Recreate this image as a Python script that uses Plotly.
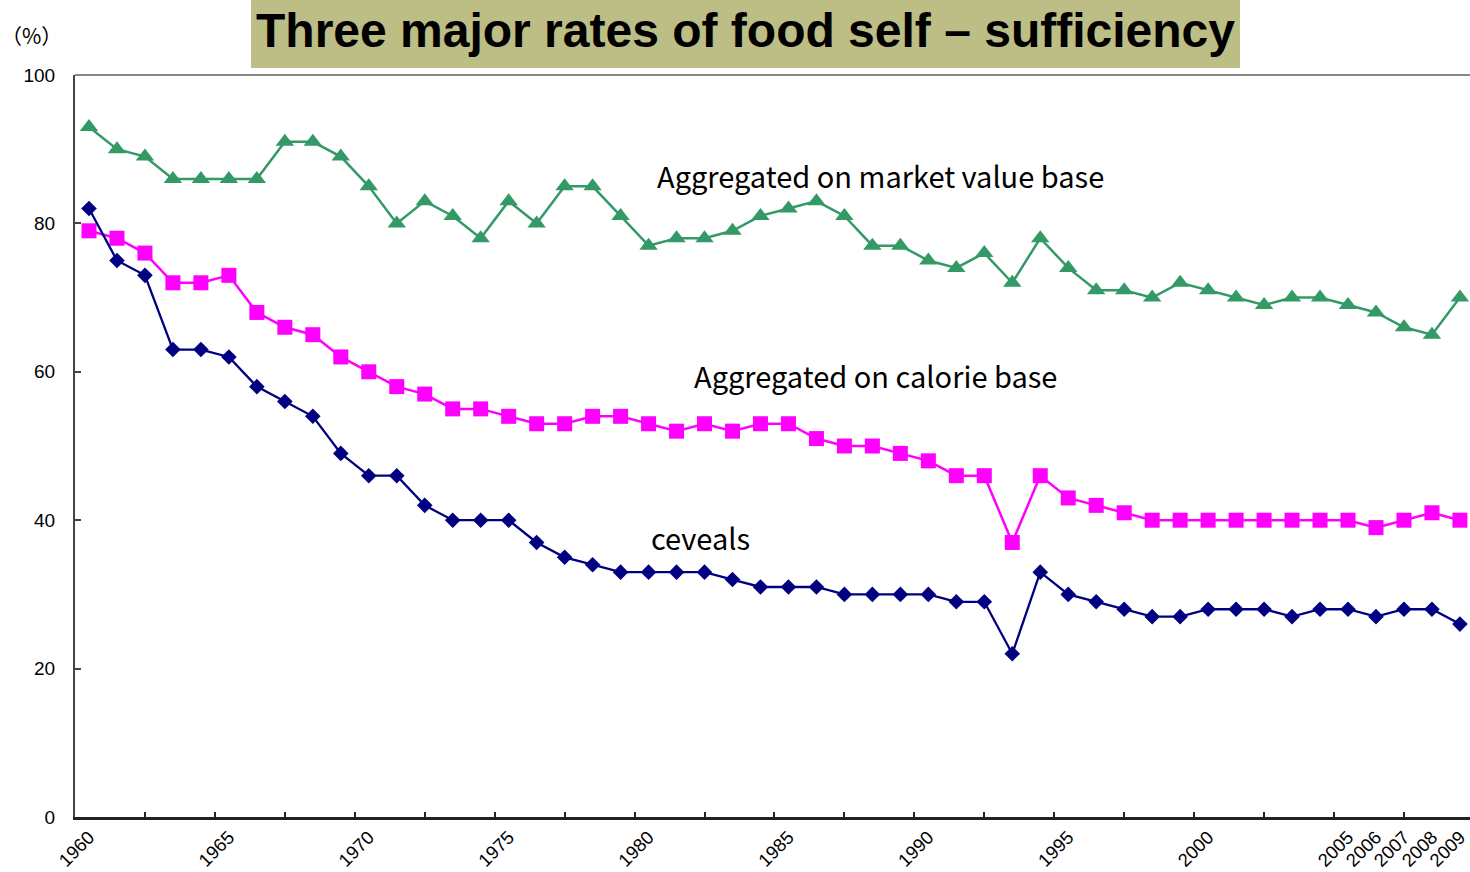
import plotly.graph_objects as go

years = list(range(1960, 2010))

market_value = [93, 90, 89, 86, 86, 86, 86, 91, 91, 89,
                85, 80, 83, 81, 78, 83, 80, 85, 85, 81,
                77, 78, 78, 79, 81, 82, 83, 81, 77, 77,
                75, 74, 76, 72, 78, 74, 71, 71, 70, 72,
                71, 70, 69, 70, 70, 69, 68, 66, 65, 70]

calorie = [79, 78, 76, 72, 72, 73, 68, 66, 65, 62,
           60, 58, 57, 55, 55, 54, 53, 53, 54, 54,
           53, 52, 53, 52, 53, 53, 51, 50, 50, 49,
           48, 46, 46, 37, 46, 43, 42, 41, 40, 40,
           40, 40, 40, 40, 40, 40, 39, 40, 41, 40]

cereals = [82, 75, 73, 63, 63, 62, 58, 56, 54, 49,
           46, 46, 42, 40, 40, 40, 37, 35, 34, 33,
           33, 33, 33, 32, 31, 31, 31, 30, 30, 30,
           30, 29, 29, 22, 33, 30, 29, 28, 27, 27,
           28, 28, 28, 27, 28, 28, 27, 28, 28, 26]

label_years = [1960, 1965, 1970, 1975, 1980, 1985, 1990, 1995, 2000,
               2005, 2006, 2007, 2008, 2009]
label_text = [str(y) for y in label_years]
y_ticks = [0, 20, 40, 60, 80, 100]

title_text = "Three major rates of food self – sufficiency"
series_labels = ["Aggregated on market value base", "Aggregated on calorie base", "ceveals"]

x_range = [1959.5, 2009.36]

fig = go.Figure()
# market value series on the main x axis (tick marks), others on the label axis
fig.add_trace(go.Scatter(x=years, y=market_value, mode="lines+markers",
                         line=dict(color="#339966", width=2.5),
                         marker=dict(symbol="triangle-up", size=16, color="#339966"),
                         showlegend=False, xaxis="x"))
fig.add_trace(go.Scatter(x=years, y=calorie, mode="lines+markers",
                         line=dict(color="#FF00FF", width=2.5),
                         marker=dict(symbol="square", size=15, color="#FF00FF"),
                         showlegend=False, xaxis="x2"))
fig.add_trace(go.Scatter(x=years, y=cereals, mode="lines+markers",
                         line=dict(color="#000080", width=2.3),
                         marker=dict(symbol="diamond", size=12, color="#000080"),
                         showlegend=False, xaxis="x2"))

fig.update_layout(
    width=1470, height=872,
    margin=dict(l=75, r=0, t=75, b=55),
    paper_bgcolor="white", plot_bgcolor="white",
    xaxis=dict(range=x_range, tickmode="linear", tick0=1959.5, dtick=2.5,
               ticks="inside", ticklen=5, tickwidth=2, tickcolor="#222",
               showticklabels=False, showgrid=False, zeroline=False,
               showline=True, linecolor="#222", linewidth=2.5),
    xaxis2=dict(range=x_range, overlaying="x", side="bottom", anchor="y",
                tickmode="array", tickvals=label_years, ticktext=label_text,
                tickangle=-45, ticks="", showgrid=False, zeroline=False, showline=False,
                tickfont=dict(family="Liberation Sans, Arial", size=18.5, color="black"),
                ticklabelstandoff=5),
    yaxis=dict(range=[0, 100], tickvals=y_ticks, ticks="inside", ticklen=6,
               tickwidth=1.5, tickcolor="#444", showgrid=False, zeroline=False,
               showline=True, linecolor="#444", linewidth=2,
               tickfont=dict(family="Liberation Sans, Arial", size=19, color="black"),
               ticklabelstandoff=14),
    shapes=[
        dict(type="line", xref="paper", yref="paper", x0=0, x1=1, y0=1, y1=1,
             line=dict(color="#888888", width=2)),
        dict(type="rect", xref="paper", yref="paper", x0=0.1262, x1=0.8351,
             y0=1.0094, y1=1.2, fillcolor="#BDBD86", line=dict(width=0), layer="below"),
    ],
    annotations=[
        dict(text=title_text, xref="paper", yref="paper", x=0.4806, y=1.0606,
             showarrow=False, xanchor="center", yanchor="middle",
             font=dict(family="Liberation Sans, Arial", size=48, color="black", weight="bold")),
        dict(text="（%）", xref="paper", yref="paper", x=-0.0312, y=1.0539,
             showarrow=False, xanchor="center", yanchor="middle",
             font=dict(family="Noto Sans CJK JP", size=21, color="black")),
        dict(text=series_labels[0], x=1988.3, y=86.5, showarrow=False,
             xanchor="center", yanchor="middle",
             font=dict(family="Noto Sans CJK JP", size=29, color="black")),
        dict(text=series_labels[1], x=1988.1, y=59.6, showarrow=False,
             xanchor="center", yanchor="middle",
             font=dict(family="Noto Sans CJK JP", size=29, color="black")),
        dict(text=series_labels[2], x=1981.84, y=37.7, showarrow=False,
             xanchor="center", yanchor="middle",
             font=dict(family="Noto Sans CJK JP", size=29, color="black")),
    ],
)

fig.write_html("out.html", config={"displayModeBar": False},
               post_script="document.body.style.margin='0';document.body.style.overflow='hidden';")
